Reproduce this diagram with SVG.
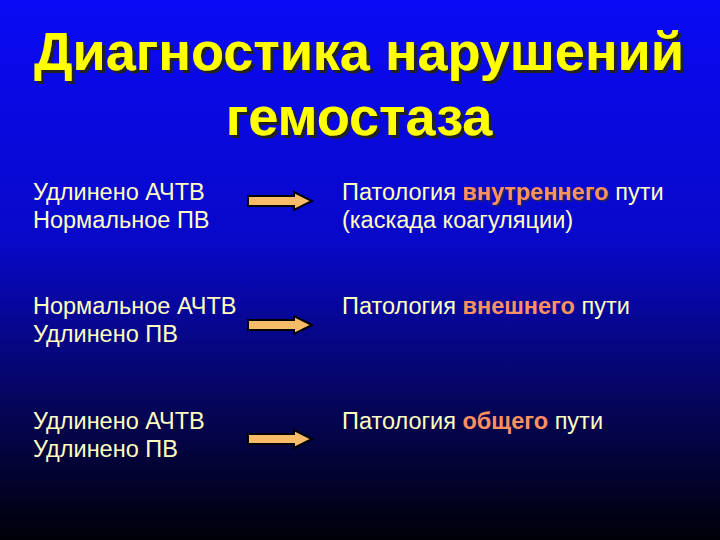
<svg xmlns="http://www.w3.org/2000/svg" width="720" height="540" viewBox="0 0 720 540">
<defs>
<linearGradient id="bg" x1="0" y1="0" x2="0" y2="1">
<stop offset="0" stop-color="#0a0af5"/>
<stop offset="0.45" stop-color="#0808c8"/>
<stop offset="0.75" stop-color="#05055a"/>
<stop offset="1" stop-color="#000008"/>
</linearGradient>
<filter id="sh" x="-5%" y="-20%" width="110%" height="140%">
<feDropShadow dx="3" dy="3" stdDeviation="0.5" flood-color="#202020" flood-opacity="1"/>
</filter>
<filter id="sh2" x="-5%" y="-20%" width="110%" height="140%">
<feDropShadow dx="1.5" dy="1.5" stdDeviation="0.3" flood-color="#303030" flood-opacity="0.8"/>
</filter>
<path id="arr" d="M0,4 H46 V0 L64,9 L46,18 V14 H0 Z"/>
</defs>
<style>
.t{font-family:"Liberation Sans",Arial,sans-serif;font-weight:bold;font-size:54px;fill:#ffff00;text-anchor:middle}
.b{font-family:"Liberation Sans",Arial,sans-serif;font-size:23.5px;fill:#ffffc0}
.h{font-weight:bold;fill:#ff9060}
.a{fill:#f8bc68;stroke:#000;stroke-width:2}
</style>
<rect width="720" height="540" fill="url(#bg)"/>
<g id="title" filter="url(#sh)">
<text class="t" x="359" y="70">Диагностика нарушений</text>
<text class="t" x="359" y="135">гемостаза</text>
</g>
<g id="row1">
<text class="b" x="33" y="200">Удлинено АЧТВ</text>
<text class="b" x="33" y="228">Нормальное ПВ</text>
<text class="b" x="342" y="200">Патология <tspan class="h" filter="url(#sh2)">внутреннего</tspan> пути</text>
<text class="b" x="342" y="228">(каскада коагуляции)</text>
</g>
<g id="row2">
<text class="b" x="33" y="314">Нормальное АЧТВ</text>
<text class="b" x="33" y="342">Удлинено ПВ</text>
<text class="b" x="342" y="314">Патология <tspan class="h">внешнего</tspan> пути</text>
</g>
<g id="row3">
<text class="b" x="33" y="429">Удлинено АЧТВ</text>
<text class="b" x="33" y="457">Удлинено ПВ</text>
<text class="b" x="342" y="429">Патология <tspan class="h">общего</tspan> пути</text>
</g>
<g id="connectors">
<use href="#arr" class="a" x="248" y="192"/>
<use href="#arr" class="a" x="248" y="316"/>
<use href="#arr" class="a" x="248" y="430"/>
</g>
</svg>
